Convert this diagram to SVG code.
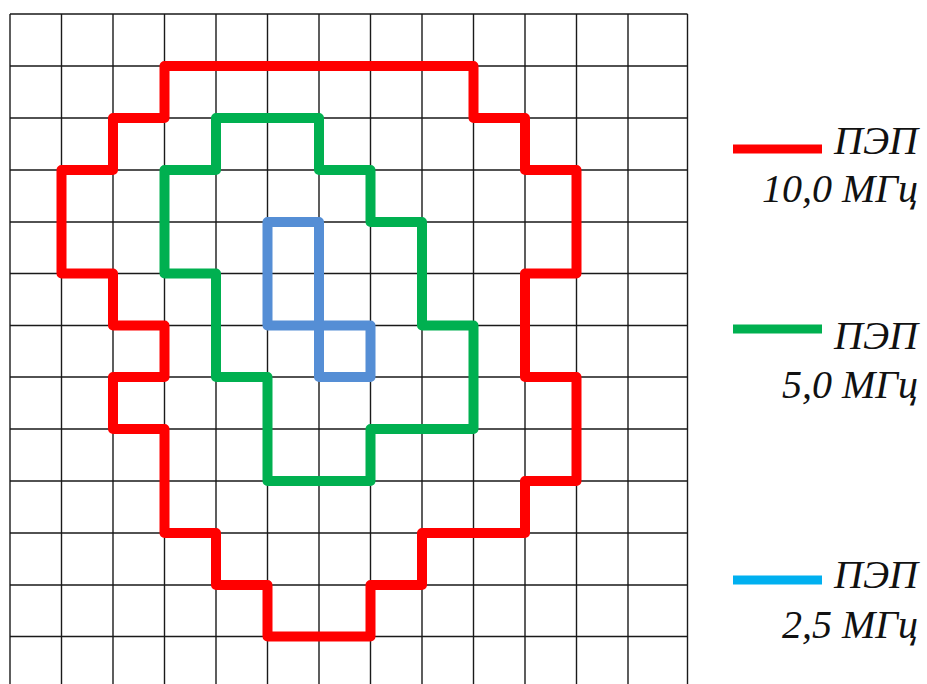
<svg xmlns="http://www.w3.org/2000/svg" width="927" height="684" viewBox="0 0 927 684">
<style>
.g{stroke:#1a1a1a;stroke-width:1.4;fill:none}
.c{fill:none;stroke-width:10;stroke-linejoin:round;stroke-linecap:round}
.t{font-family:'Liberation Serif','Times New Roman','DejaVu Serif',serif;font-style:italic;font-size:40px;fill:#111;text-anchor:end}
.lg{fill:none;stroke-width:9;stroke-linecap:butt}
</style>
<rect width="927" height="684" fill="#fff"/>
<g id="grid">
<path class="g" d="M10,14V684M61.5,14V684M113,14V684M164.5,14V684M216,14V684M267.5,14V684M319,14V684M370.5,14V684M422,14V684M473.5,14V684M525,14V684M576.5,14V684M628,14V684M687.5,14V684"/>
<path class="g" d="M10,14H687.5M10,66H687.5M10,118H687.5M10,170H687.5M10,222H687.5M10,273.5H687.5M10,325.5H687.5M10,377H687.5M10,429H687.5M10,481H687.5M10,533H687.5M10,585H687.5M10,636.5H687.5"/>
</g>
<g id="contours">
<path id="red" class="c" stroke="#ff0000" d="M164.5,66H473.5V118H525V170H576.5V273.5H525V377H576.5V481H525V533H422V585H370.5V636.5H267.5V585H216V533H164.5V429H113V377H164.5V325.5H113V273.5H61.5V170H113V118H164.5Z"/>
<path id="green" class="c" stroke="#00b050" d="M216,118H319V170H370.5V222H422V325.5H473.5V429H370.5V481H267.5V377H216V273.5H164.5V170H216Z"/>
<path id="blue" class="c" stroke="#558ed5" d="M267.5,222H319V325.5H267.5ZM319,325.5H370.5V377H319Z"/>
</g>
<g id="legend-red">
<line class="lg" stroke="#ff0000" x1="733" y1="149" x2="822" y2="149"/>
<text class="t" x="918" y="154" font-family="Liberation Serif, serif">ПЭП</text>
<text class="t" x="918" y="202" font-family="Liberation Serif, serif">10,0 МГц</text>
</g>
<g id="legend-green">
<line class="lg" stroke="#00b050" x1="733" y1="329" x2="822" y2="329"/>
<text class="t" x="918" y="349">ПЭП</text>
<text class="t" x="918" y="398">5,0 МГц</text>
</g>
<g id="legend-blue">
<line class="lg" stroke="#00b0f0" x1="733" y1="580" x2="822" y2="580"/>
<text class="t" x="918" y="588">ПЭП</text>
<text class="t" x="918" y="638">2,5 МГц</text>
</g>
</svg>
